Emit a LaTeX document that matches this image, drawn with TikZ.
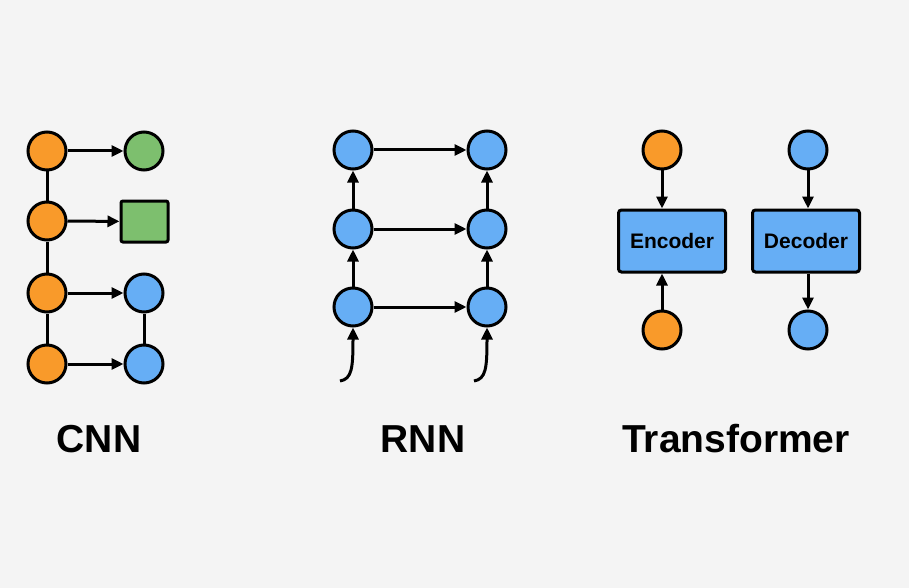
\documentclass[tikz,border=0pt]{standalone}
\usepackage{fontspec}
\setmainfont{Liberation Sans}
\usetikzlibrary{arrows.meta}
\definecolor{bgcol}{HTML}{F4F4F4}
\definecolor{orng}{HTML}{F99A2A}
\definecolor{grn}{HTML}{7DBF6E}
\definecolor{blu}{HTML}{66AEF5}
\begin{document}
\begin{tikzpicture}[x=1pt,y=-1pt,
    unit/.style={circle,draw,line width=3pt,minimum size=38pt,inner sep=0pt},
    block/.style={draw,line width=3pt,rounded corners=3pt,fill=blu,minimum width=107pt,minimum height=62pt,font=\bfseries\fontsize{21}{24}\selectfont},
    link/.style={line width=3pt},
    arr/.style={link,-{Triangle[length=12pt,width=11pt]}},
    title/.style={inner sep=0pt,font=\bfseries\fontsize{39}{44}\selectfont}]
    % background
    \fill[bgcol] (0,0) rectangle (909,588);

    % CNN
    \node[unit,fill=orng] (c1) at (47,151) {};
    \node[unit,fill=orng] (c2) at (47,221) {};
    \node[unit,fill=orng] (c3) at (47,293) {};
    \node[unit,fill=orng] (c4) at (47,364) {};
    \node[unit,fill=grn] (g1) at (144,151) {};
    \node[draw,line width=3pt,rounded corners=2pt,fill=grn,minimum width=47pt,minimum height=41pt] (g2) at (144.5,221.5) {};
    \node[unit,fill=blu] (b1) at (144,293) {};
    \node[unit,fill=blu] (b2) at (144,364) {};
    \draw[link] (c1) -- (c2) -- (c3) -- (c4);
    \draw[link] (b1) -- (b2);
    \draw[arr] (c1) -- (g1);
    \draw[arr] (c2) -- (g2);
    \draw[arr] (c3) -- (b1);
    \draw[arr] (c4) -- (b2);
    \node[title] (cnn) at (99,439) {CNN};

    % RNN
    \foreach \i/\y in {1/150,2/229,3/307} {
        \node[unit,fill=blu] (l\i) at (353,\y) {};
        \node[unit,fill=blu] (r\i) at (487,\y) {};
        \draw[arr] (l\i) -- (r\i);
    }
    \draw[arr] (l3) -- (l2);
    \draw[arr] (l2) -- (l1);
    \draw[arr] (r3) -- (r2);
    \draw[arr] (r2) -- (r1);
    \coordinate (inl) at (340,381);
    \coordinate (inr) at (474,381);
    \draw[arr] (inl) .. controls (352,379) and (353,368) .. (l3);
    \draw[arr] (inr) .. controls (486,379) and (487,368) .. (r3);
    \node[title] (rnn) at (423,439) {RNN};

    % Transformer
    \node[block] (enc) at (672,241) {Encoder};
    \node[block] (dec) at (806,241) {Decoder};
    \node[unit,fill=orng] (ein) at (662,150) {};
    \node[unit,fill=orng] (eout) at (662,330) {};
    \node[unit,fill=blu] (din) at (808,150) {};
    \node[unit,fill=blu] (dout) at (808,330) {};
    \draw[arr] (ein) -- (ein |- enc.north);
    \draw[arr] (eout) -- (eout |- enc.south);
    \draw[arr] (din) -- (din |- dec.north);
    \draw[arr] (dout |- dec.south) -- (dout);
    \node[title] (trf) at (736,439) {Transformer};
\end{tikzpicture}
\end{document}
